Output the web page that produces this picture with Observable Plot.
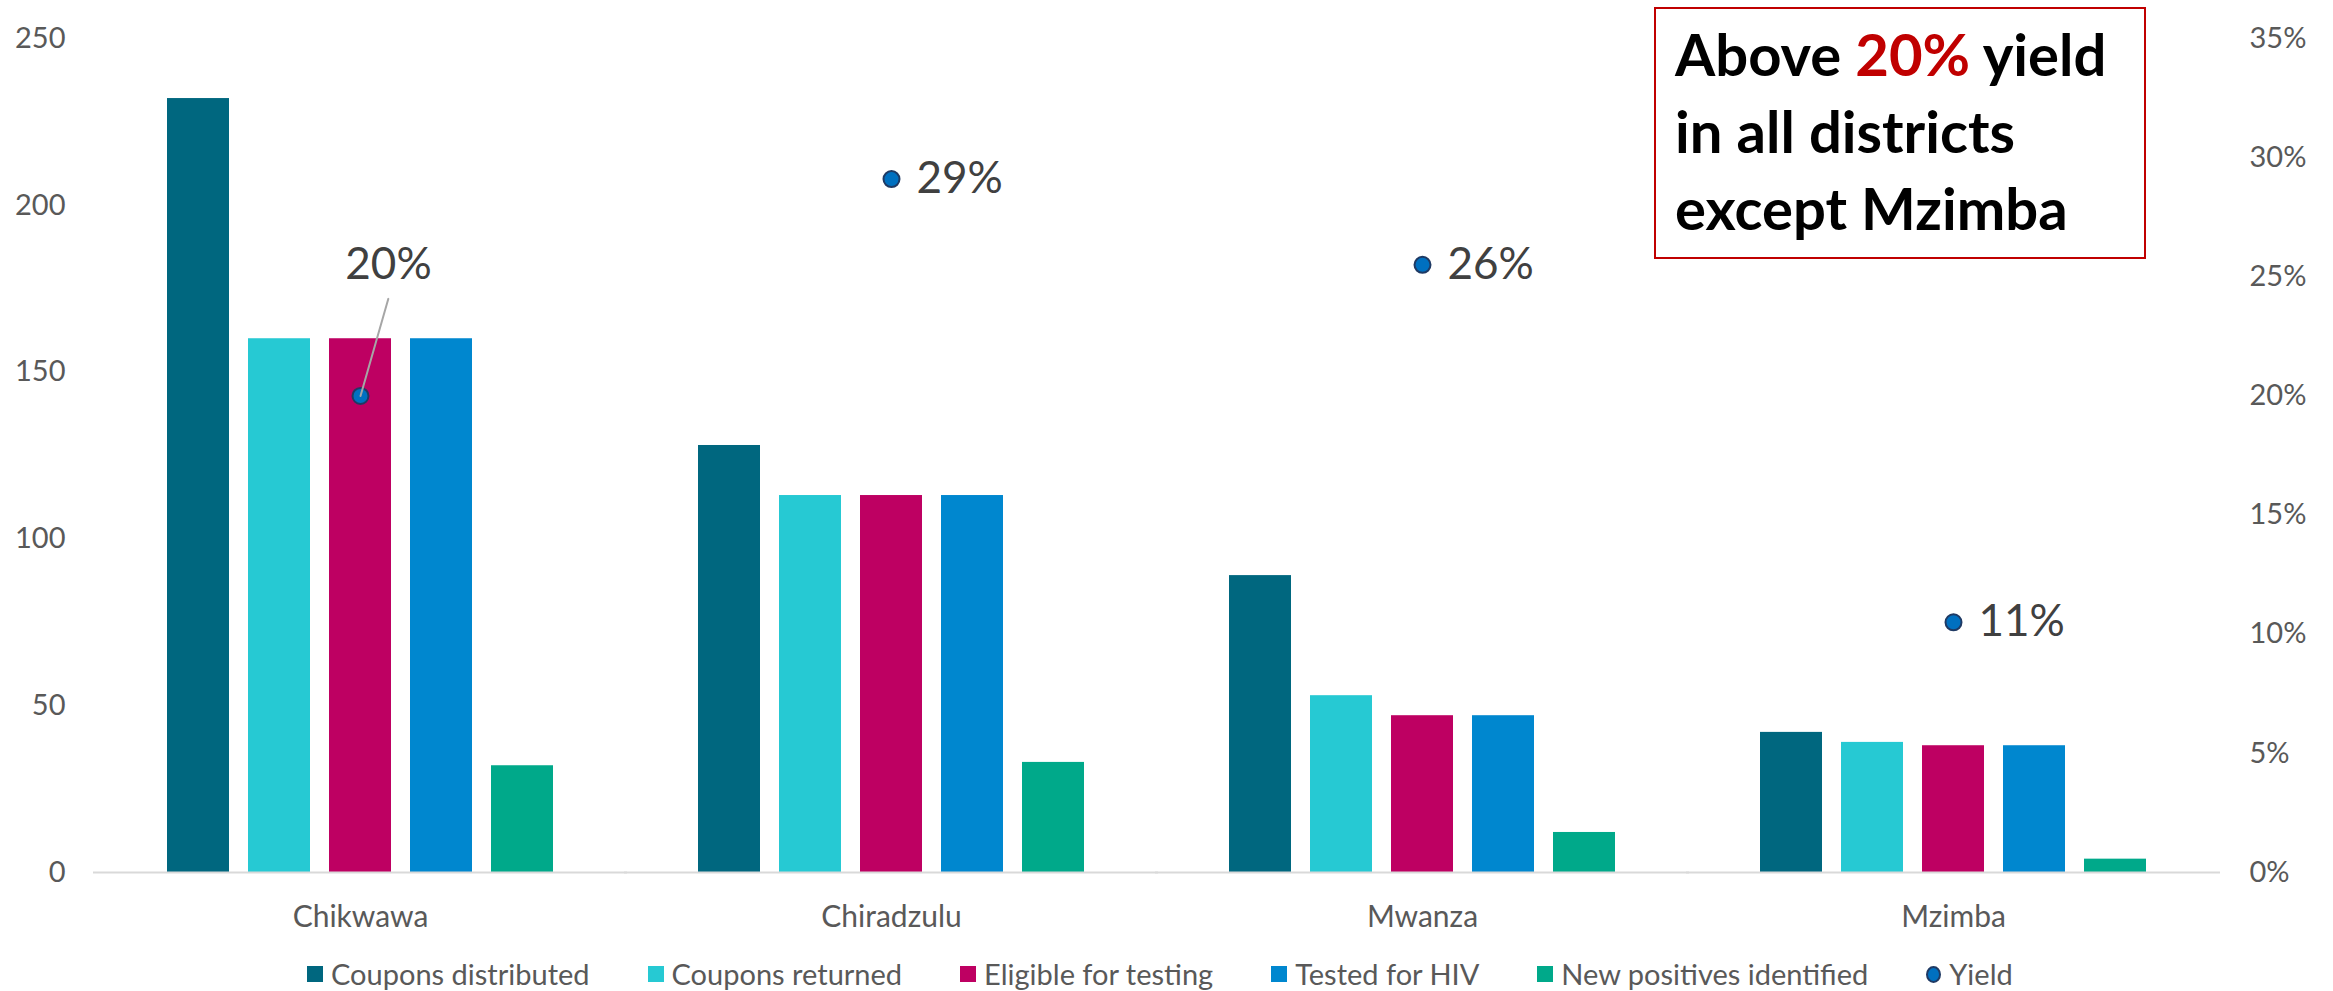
<!DOCTYPE html>
<html><head><meta charset="utf-8">
<script src="https://cdn.jsdelivr.net/npm/d3@7"></script>
<script src="https://cdn.jsdelivr.net/npm/@observablehq/plot@0.6"></script>
<style>
body{margin:0;background:#fff;font-family:Lato,sans-serif;}
#wrap{position:relative;width:2333px;height:991px;overflow:hidden;background:#fff}
#note{position:absolute;left:1654px;top:7px;border:2px solid #c00000;
 font-family:Lato,sans-serif;font-weight:700;font-size:58px;line-height:77px;color:#000;
 padding:6px 0 0 19px;box-sizing:border-box;width:492px;height:252px;}
#note .hl{color:#c00000}
#legend{position:absolute;left:307px;top:954px;height:40px;display:flex;align-items:center;
 font-family:Lato,sans-serif;font-size:29px;color:#595959;line-height:40px;white-space:nowrap}
#legend .item{display:flex;align-items:center;margin-right:58px}
#legend .sw{width:16px;height:16px;margin-right:8px}
#legend .sw.circ{border-radius:50%;box-sizing:border-box;border:2px solid #1f3a64;width:15px;height:17px}
</style></head><body><div id="wrap"></div>
<script>
const districts = ["Chikwawa", "Chiradzulu", "Mwanza", "Mzimba"];
const series = ["Coupons distributed", "Coupons returned", "Eligible for testing", "Tested for HIV", "New positives identified"];
const couponsDistributed = [232, 128, 89, 42];
const couponsReturned = [160, 113, 53, 39];
const eligibleForTesting = [160, 113, 47, 38];
const testedForHIV = [160, 113, 47, 38];
const newPositives = [32, 33, 12, 4];
const yieldValues = [0.20, 0.291, 0.255, 0.105];
const yieldLabels = ["20%", "29%", "26%", "11%"];
const leftTicks = [0, 50, 100, 150, 200, 250];
const rightTicks = [0, 0.05, 0.10, 0.15, 0.20, 0.25, 0.30, 0.35];
const seriesColors = ["#00677f", "#26c9d3", "#be0062", "#0087cf", "#00a98a"];
const yieldColor = "#0070c0";
const yieldStroke = "#1f3a64";

const seriesValues = [couponsDistributed, couponsReturned, eligibleForTesting, testedForHIV, newPositives];
const rows = [];
districts.forEach((d, i) => series.forEach((s, j) => rows.push({district: d, series: s, value: seriesValues[j][i]})));
const k = 250 / 0.35; // right axis (yield) mapped onto left axis domain
const yieldRows = districts.map((d, i) => ({district: d, slot: series[2], y: yieldValues[i] * k, label: yieldLabels[i]}));

const chart = Plot.plot({
  width: 2333, height: 940,
  marginLeft: 92, marginRight: 112, marginTop: 38, marginBottom: 68,
  style: {fontFamily: "Lato, sans-serif", background: "white"},
  fx: {domain: districts, paddingInner: 0.266, paddingOuter: 0.135, label: null},
  x: {domain: series, paddingInner: 0.238, paddingOuter: 0, axis: null},
  y: {domain: [0, 250], axis: null},
  color: {domain: series, range: seriesColors},
  marks: [
    Plot.barY(rows, {fx: "district", x: "series", y: "value", fill: "series"}),
    Plot.ruleY([0], {stroke: "#d9d9d9", strokeWidth: 2, insetLeft: -72, insetRight: -72}),
    Plot.dot(yieldRows, {fx: "district", x: "slot", y: "y", r: 8, fill: yieldColor, stroke: yieldStroke, strokeWidth: 2}),
    Plot.vector(yieldRows.slice(0, 1), {fx: "district", x: "slot", y: "y", length: 101, rotate: 16, anchor: "start",
      stroke: "#a6a6a6", strokeWidth: 2,
      shape: {draw(ctx, l) { ctx.moveTo(0, 0); ctx.lineTo(0, -l); }}}),
    Plot.text(yieldRows.slice(0, 1), {fx: "district", x: "slot", y: "y", text: "label", dx: 28, dy: -131,
      textAnchor: "middle", fontSize: 44, fill: "#404040"}),
    Plot.text(yieldRows.slice(1), {fx: "district", x: "slot", y: "y", text: "label", dx: 25,
      textAnchor: "start", fontSize: 44, fill: "#404040"}),
    Plot.axisY(leftTicks, {anchor: "left", tickSize: 0, tickPadding: 100, fontSize: 29, color: "#595959", label: null}),
    Plot.axisY(rightTicks.map(t => t * k), {anchor: "right", tickSize: 0, tickPadding: 101, fontSize: 29, color: "#595959", label: null,
      tickFormat: v => Math.round(v / k * 100) + "%"}),
    Plot.axisFx({anchor: "bottom", tickSize: 0, tickPadding: 33, fontSize: 30, color: "#595959", label: null})
  ]
});
const wrap = document.getElementById("wrap");
wrap.appendChild(chart);

const note = document.createElement("div");
note.id = "note";
note.innerHTML = 'Above <span class="hl">20%</span> yield<br>in all districts<br>except Mzimba';
wrap.appendChild(note);

const legend = document.createElement("div");
legend.id = "legend";
series.forEach((s, j) => {
  const it = document.createElement("div"); it.className = "item";
  const sw = document.createElement("div"); sw.className = "sw"; sw.style.background = seriesColors[j];
  const tx = document.createElement("span"); tx.textContent = s;
  it.append(sw, tx); legend.appendChild(it);
});
{
  const it = document.createElement("div"); it.className = "item";
  const sw = document.createElement("div"); sw.className = "sw circ"; sw.style.background = yieldColor;
  const tx = document.createElement("span"); tx.textContent = "Yield";
  it.append(sw, tx); legend.appendChild(it);
}
wrap.appendChild(legend);
</script></body></html>
